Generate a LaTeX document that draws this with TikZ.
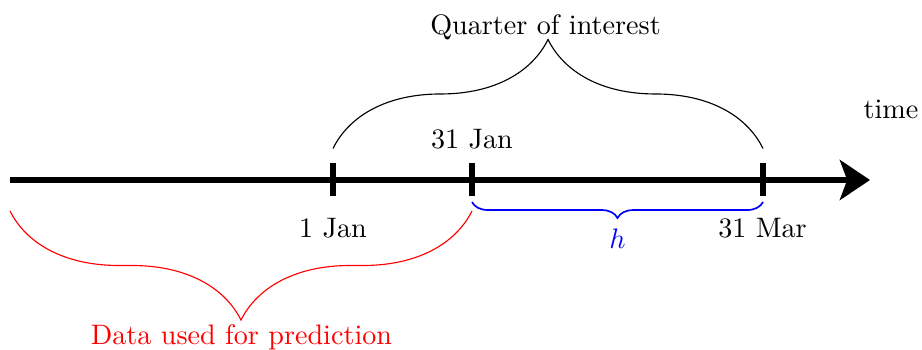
\documentclass[tikz,border=0pt]{standalone}
\usetikzlibrary{arrows.meta,decorations.pathreplacing}
\begin{document}
\begin{tikzpicture}[x=0.355pt,y=-0.355pt,
  axisline/.style={line width=2.3pt,-{Stealth[length=10.7pt,width=14.2pt,inset=2.6pt]}},
  tickline/.style={line width=2pt},
  bigbrace/.style={decorate,decoration={brace,amplitude=38.7pt}},
  smallbrace/.style={decorate,decoration={brace,amplitude=5.7pt}},
  lbl/.style={inner sep=0pt,anchor=base}]
\useasboundingbox (0,0) rectangle (922,350);
% axis
\coordinate (s) at (10,180);
\coordinate (e) at (870,180);
\coordinate (t1) at (333,180);
\coordinate (t2) at (472,180);
\coordinate (t3) at (763,180);
\draw[axisline] (s) -- (e);
\foreach \t in {t1,t2,t3}
  \draw[tickline] (\t) ++(0,-16.5) -- ++(0,33);
% brace end points
\coordinate (q1) at (333,148.5);
\coordinate (q2) at (763,148.5);
\coordinate (d1) at (10,211);
\coordinate (d2) at (472,211);
\coordinate (h1) at (472,202);
\coordinate (h2) at (763,202);
\draw[bigbrace,line width=0.4pt] (q1) -- (q2);
\draw[bigbrace,red,line width=0.4pt] (d2) -- (d1);
\draw[smallbrace,blue,line width=0.6pt] (h2) -- (h1);
% labels
\node[lbl] (quarter) at (545.5,35) {Quarter of interest};
\node[lbl] (time) at (891,119) {time};
\node[lbl] (jan31) at (472,149) {31 Jan};
\node[lbl] (jan1) at (333,238) {1 Jan};
\node[lbl] (mar31) at (762.5,238) {31 Mar};
\node[lbl,blue] (h) at (617.5,249) {$h$};
\node[lbl,red] (data) at (241.5,345) {Data used for prediction};
\end{tikzpicture}
\end{document}
